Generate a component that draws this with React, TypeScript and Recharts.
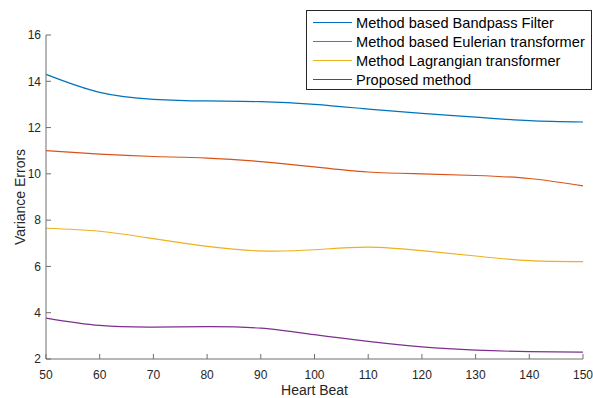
import React from "react";
import {
  LineChart,
  Line,
  XAxis,
  YAxis,
  Legend,
} from "recharts";

const heartBeat = [50, 60, 70, 80, 90, 100, 110, 120, 130, 140, 150];
const bandpass = [14.3, 13.52, 13.22, 13.15, 13.12, 13.0, 12.8, 12.61, 12.45, 12.3, 12.24];
const eulerian = [11.0, 10.85, 10.75, 10.68, 10.53, 10.3, 10.08, 10.0, 9.93, 9.8, 9.48];
const lagrangian = [7.65, 7.52, 7.2, 6.87, 6.67, 6.72, 6.83, 6.68, 6.45, 6.25, 6.21];
const proposed = [3.77, 3.45, 3.38, 3.4, 3.33, 3.05, 2.76, 2.52, 2.38, 2.32, 2.3];

const xTicks = [50, 60, 70, 80, 90, 100, 110, 120, 130, 140, 150];
const yTicks = [2, 4, 6, 8, 10, 12, 14, 16];

const series = [
  { key: "bandpass", name: "Method based Bandpass Filter", color: "#0072BD" },
  { key: "eulerian", name: "Method based Eulerian transformer", color: "#D95319" },
  { key: "lagrangian", name: "Method Lagrangian transformer", color: "#EDB120" },
  { key: "proposed", name: "Proposed method", color: "#7E2F8E" },
];

const data = heartBeat.map((hb, i) => ({
  hb,
  bandpass: bandpass[i],
  eulerian: eulerian[i],
  lagrangian: lagrangian[i],
  proposed: proposed[i],
}));

const FONT = "'Liberation Sans', Arial, sans-serif";
const tickStyle = { fontFamily: FONT, fontSize: 12, fill: "#262626" };

function LegendBox() {
  return (
    <div
      style={{
        border: "1px solid #262626",
        background: "#fff",
        padding: "2px 0 3px 6px",
        width: 286,
        height: 80,
        fontFamily: FONT,
        fontSize: 14.6,
        color: "#000",
        boxSizing: "border-box",
        whiteSpace: "nowrap",
      }}
    >
      {series.map((s) => (
        <div
          key={s.key}
          style={{ display: "flex", alignItems: "center", height: 19 }}
        >
          <span
            style={{
              width: 39,
              flexShrink: 0,
              height: 0,
              borderTop: `1.2px solid ${s.color}`,
              display: "inline-block",
              marginRight: 4,
            }}
          />
          {s.name}
        </div>
      ))}
    </div>
  );
}

export default function App() {
  return (
    <div style={{ width: 593, height: 398, background: "#fff" }}>
      <style>{`body{margin:0}`}</style>
      <LineChart
        width={593}
        height={398}
        data={data}
        margin={{ top: 35, right: 10, left: 0, bottom: 0 }}
      >
        <XAxis
          dataKey="hb"
          type="number"
          domain={[50, 150]}
          ticks={xTicks}
          tick={tickStyle}
          tickSize={-5}
          tickMargin={16}
          stroke="#6e6e6e"
          height={39}
          label={{
            value: "Heart Beat",
            position: "insideBottom",
            offset: 3,
            style: { fontFamily: FONT, fontSize: 14, fill: "#262626" },
          }}
        />
        <YAxis
          type="number"
          domain={[2, 16]}
          ticks={yTicks}
          tick={tickStyle}
          tickSize={-5}
          tickMargin={10}
          stroke="#6e6e6e"
          width={46}
          label={{
            value: "Variance Errors",
            angle: -90,
            position: "insideLeft",
            offset: 20,
            style: {
              fontFamily: FONT,
              fontSize: 14,
              fill: "#262626",
              textAnchor: "middle",
            },
          }}
        />
        <Legend
          layout="vertical"
          align="center"
          verticalAlign="middle"
          wrapperStyle={{ top: 10, left: 306, width: 286 }}
          content={() => <LegendBox />}
        />
        {series.map((s) => (
          <Line
            key={s.key}
            dataKey={s.key}
            name={s.name}
            type="natural"
            stroke={s.color}
            strokeWidth={1.2}
            dot={false}
            activeDot={false}
            isAnimationActive={false}
          />
        ))}
      </LineChart>
    </div>
  );
}
